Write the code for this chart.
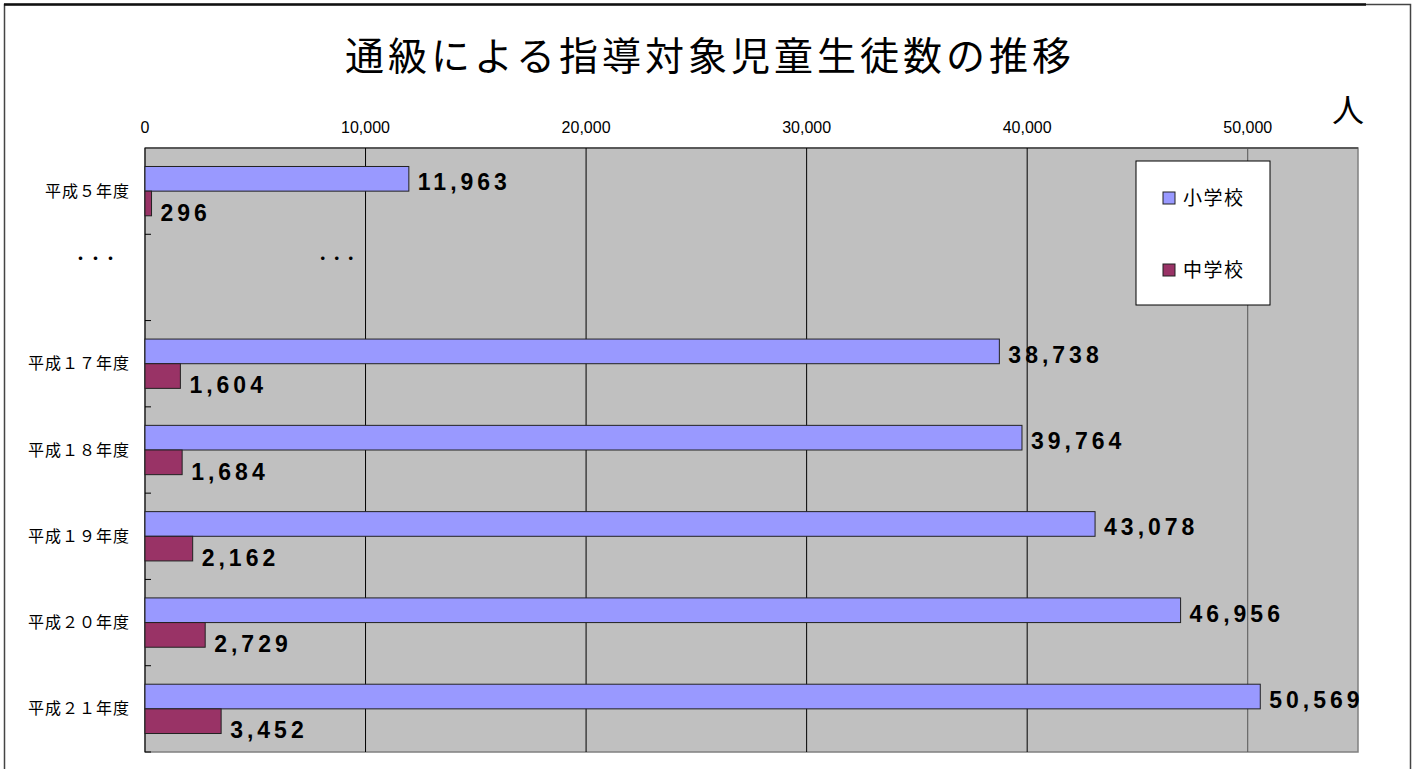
<!DOCTYPE html>
<html>
<head>
<meta charset="utf-8">
<script src="https://cdn.jsdelivr.net/npm/d3@7"></script>
<style>
  body { margin: 0; background: #fff; }
  svg { display: block; }
</style>
</head>
<body>
<div class="bar-chart"></div>
<script>
const categories = ['平成５年度', '・・・', '平成１７年度', '平成１８年度', '平成１９年度', '平成２０年度', '平成２１年度'];
const seriesNames = ['小学校', '中学校'];
const elementary = [11963, null, 38738, 39764, 43078, 46956, 50569];
const juniorHigh = [296, null, 1604, 1684, 2162, 2729, 3452];
const xTicks = [0, 10000, 20000, 30000, 40000, 50000];
const xMax = 55000;
const gapDotsValue = 8700; // where the "・・・" sits inside the plot

const colors = { '小学校': '#9999ff', '中学校': '#993366' };

const containerWidth = 1416;
const containerHeight = 769;
const margin = { top: 148, right: 58, bottom: 17, left: 145 };

const svg = d3
  .select('.bar-chart')
  .append('svg')
  .attr('width', containerWidth)
  .attr('height', containerHeight);

const x = d3
  .scaleLinear()
  .domain([0, xMax])
  .range([margin.left, containerWidth - margin.right]);

const y = d3
  .scaleBand()
  .domain(categories)
  .range([margin.top, containerHeight - margin.bottom]);

const ySub = d3
  .scaleBand()
  .domain(seriesNames)
  .range([0, y.bandwidth()])
  .paddingOuter(0.75);

const rows = categories.map((c, i) => ({
  category: c,
  values: [
    { name: '小学校', value: elementary[i] },
    { name: '中学校', value: juniorHigh[i] },
  ],
}));

// outer frame
svg.append('rect')
  .attr('x', 4.5).attr('y', 4.5)
  .attr('width', 1406).attr('height', 800)
  .attr('fill', 'none')
  .attr('stroke', '#444')
  .attr('stroke-width', 1.5);
svg.append('line')
  .attr('x1', 4).attr('x2', 1366)
  .attr('y1', 4.5).attr('y2', 4.5)
  .attr('stroke', '#111')
  .attr('stroke-width', 2.5);

// title
svg.append('text')
  .attr('x', 710)
  .attr('y', 70)
  .attr('text-anchor', 'middle')
  .style('font-family', '"Noto Sans CJK JP", sans-serif')
  .style('font-size', '39px')
  .style('letter-spacing', '4px')
  .text('通級による指導対象児童生徒数の推移');

// plot background
const [x0, x1] = x.range();
const [y0, y1] = y.range();
svg.append('rect')
  .attr('x', x0).attr('y', y0)
  .attr('width', x1 - x0).attr('height', y1 - y0)
  .attr('fill', '#c0c0c0')
  .attr('stroke', '#808080')
  .attr('stroke-width', 1.5);
svg.append('line')
  .attr('x1', x0).attr('x2', x1)
  .attr('y1', y0).attr('y2', y0)
  .attr('stroke', '#444')
  .attr('stroke-width', 1.5);

// gridlines
svg.append('g')
  .selectAll('line')
  .data(xTicks.filter((t) => t > 0))
  .enter()
  .append('line')
  .attr('x1', (d) => x(d)).attr('x2', (d) => x(d))
  .attr('y1', y0).attr('y2', y1)
  .attr('stroke', (d) => (d === 50000 ? '#555' : '#000'))
  .attr('stroke-width', 1);

// top axis labels
svg.append('g')
  .selectAll('text')
  .data(xTicks)
  .enter()
  .append('text')
  .attr('x', (d) => x(d))
  .attr('y', 133)
  .attr('text-anchor', 'middle')
  .style('font-family', '"Liberation Sans Narrow", "Liberation Sans", Arial, sans-serif')
  .style('font-size', '16px')
  .text((d) => d3.format(',')(d));

svg.append('text')
  .attr('x', 1348)
  .attr('y', 122)
  .attr('text-anchor', 'middle')
  .style('font-family', '"Noto Sans CJK JP", sans-serif')
  .style('font-size', '32px')
  .text('人');

// left axis
const boundaries = categories.map((c) => y(c) + y.bandwidth()).slice(0, -1);
svg.append('line')
  .attr('x1', x0).attr('x2', x0)
  .attr('y1', y0).attr('y2', y1)
  .attr('stroke', '#000');
svg.append('g')
  .selectAll('line')
  .data(boundaries.concat([y1]))
  .enter()
  .append('line')
  .attr('x1', x0).attr('x2', x0 + 6)
  .attr('y1', (d) => d).attr('y2', (d) => d)
  .attr('stroke', '#000');

svg.append('g')
  .selectAll('text')
  .data(categories)
  .enter()
  .append('text')
  .attr('x', (d) => (d === '・・・' ? 96 : 130))
  .attr('y', (d) => y(d) + y.bandwidth() / 2 + (d === '・・・' ? -19 : 0))
  .attr('dy', '0.35em')
  .attr('text-anchor', (d) => (d === '・・・' ? 'middle' : 'end'))
  .style('font-family', '"Noto Sans CJK JP", sans-serif')
  .style('font-size', (d) => (d === '・・・' ? '14px' : '16px'))
  .style('font-weight', (d) => (d === '・・・' ? 'bold' : 'normal'))
  .style('letter-spacing', '1px')
  .text((d) => d);

// dots inside the gap row
svg.append('text')
  .attr('x', x(gapDotsValue))
  .attr('y', y('・・・') + y.bandwidth() / 2 - 19)
  .attr('dy', '0.35em')
  .attr('text-anchor', 'middle')
  .style('font-family', '"Noto Sans CJK JP", sans-serif')
  .style('font-size', '14px')
  .style('font-weight', 'bold')
  .text('・・・');

// bars
const groups = svg.append('g')
  .selectAll('g')
  .data(rows)
  .enter()
  .append('g')
  .attr('transform', (d) => `translate(0, ${y(d.category)})`);

const bars = groups
  .selectAll('g')
  .data((d) => d.values.filter((v) => v.value != null))
  .enter()
  .append('g');

bars.append('rect')
  .attr('x', x(0))
  .attr('y', (d) => ySub(d.name))
  .attr('width', (d) => x(d.value) - x(0))
  .attr('height', ySub.bandwidth())
  .attr('fill', (d) => colors[d.name])
  .attr('stroke', '#222')
  .attr('stroke-width', 1);

bars.append('text')
  .attr('x', (d) => x(d.value) + 9)
  .attr('y', (d) => ySub(d.name) + ySub.bandwidth() / 2 + (d.name === '小学校' ? 3 : 9))
  .attr('dy', '0.36em')
  .style('font-family', '"Liberation Sans", Arial, sans-serif')
  .style('font-size', '23px')
  .style('font-weight', 'bold')
  .style('letter-spacing', '4px')
  .text((d) => d3.format(',')(d.value));

// legend
const legend = svg.append('g').attr('transform', 'translate(1136, 161)');
legend.append('rect')
  .attr('width', 134).attr('height', 144)
  .attr('fill', '#fff')
  .attr('stroke', '#000');
const items = legend.selectAll('g')
  .data(seriesNames)
  .enter()
  .append('g')
  .attr('transform', (d, i) => `translate(27, ${37 + i * 72})`);
items.append('rect')
  .attr('x', 0).attr('y', -6)
  .attr('width', 12).attr('height', 12)
  .attr('fill', (d) => colors[d])
  .attr('stroke', '#222');
items.append('text')
  .attr('x', 20)
  .attr('dy', '0.36em')
  .style('font-family', '"Noto Sans CJK JP", sans-serif')
  .style('font-size', '19px')
  .style('letter-spacing', '1.5px')
  .text((d) => d);
</script>
</body>
</html>
